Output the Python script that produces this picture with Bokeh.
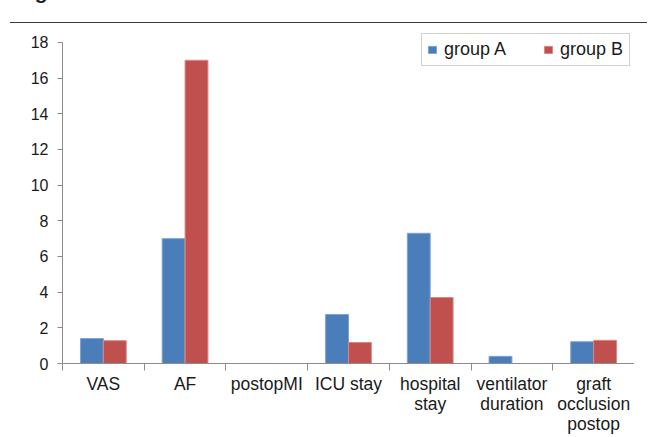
from bokeh.plotting import figure
from bokeh.models import Range1d, FixedTicker, Legend, LegendItem, Div, ColumnDataSource
from bokeh.layouts import column
from bokeh.transform import dodge
from bokeh.embed import file_html
from bokeh.resources import INLINE

# ---- data ----
categories = ["VAS", "AF", "postopMI", "ICU stay", "hospital\nstay",
              "ventilator\nduration", "graft\nocclusion\npostop"]
group_a = [1.4, 7.0, 0.0, 2.75, 7.3, 0.4, 1.22]
group_b = [1.28, 17.0, 0.0, 1.18, 3.7, 0.0, 1.3]
series_names = ["group A", "group B"]
y_ticks = [0, 2, 4, 6, 8, 10, 12, 14, 16, 18]
figure_caption = "Figure 3"

BLUE = "#4A7EBB"
RED = "#C0504D"
FONT = "Liberation Sans"
AXIS = "#8c8c8c"
TXT = "#1a1a1a"

n = len(categories)
centers = [i + 0.5 for i in range(n)]
src = ColumnDataSource(dict(x=centers, a=group_a, b=group_b))

p = figure(width=634, height=406, x_range=Range1d(0, n),
           y_range=Range1d(0, 18.5), output_backend="svg", toolbar_location=None,
           title=None, min_border_left=62, min_border_right=0, min_border_top=3,
           min_border_bottom=66)
p.outline_line_color = None
p.xgrid.visible = False
p.ygrid.visible = False

ra = p.vbar(x=dodge("x", -0.14, range=p.x_range), top="a", width=0.28, source=src,
            fill_color=BLUE, line_color="#7ea3d3", line_width=1)
rb = p.vbar(x=dodge("x", 0.14, range=p.x_range), top="b", width=0.28, source=src,
            fill_color=RED, line_color="#d98886", line_width=1)

# y axis
ya = p.yaxis[0]
ya.ticker = FixedTicker(ticks=y_ticks)
ya.bounds = (0, 18)
ya.axis_line_color = AXIS
ya.major_tick_line_color = AXIS
ya.major_tick_out = 5
ya.major_tick_in = 0
ya.minor_tick_line_color = None
ya.major_label_text_font = FONT
ya.major_label_text_font_size = "16px"
ya.major_label_text_color = TXT
ya.major_label_standoff = 9

# x axis: separator ticks between categories, labels at category centres
xa = p.xaxis[0]
xa.ticker = FixedTicker(ticks=centers, minor_ticks=list(range(n + 1)))
xa.major_label_overrides = {c: lab for c, lab in zip(centers, categories)}
xa.axis_line_color = AXIS
xa.major_tick_line_color = None
xa.minor_tick_line_color = AXIS
xa.minor_tick_out = 7
xa.minor_tick_in = 0
xa.major_label_text_font = FONT
xa.major_label_text_font_size = "17.5px"
xa.major_label_text_color = TXT
xa.major_label_text_line_height = 1.0
xa.major_label_standoff = 3

legend = Legend(items=[LegendItem(label=series_names[0], renderers=[ra]),
                       LegendItem(label=series_names[1], renderers=[rb])],
                orientation="horizontal", location=(359, 297), margin=0,
                border_line_color="#a6a6a6", border_line_width=1.5,
                padding=5, spacing=35, glyph_width=10, glyph_height=9,
                label_width=64, label_standoff=7, label_text_font=FONT,
                label_text_font_size="18px", label_text_color=TXT)
p.add_layout(legend)

top = Div(text=('<div style="position:relative;margin-left:5px;width:637px;height:18px;'
                'border-bottom:1.5px solid #3a3a3a">'
                '<span style="position:absolute;left:6px;top:-25px;'
                'font:bold 21px \'Liberation Sans\';color:#222;white-space:nowrap">'
                + figure_caption + '</span></div>'),
          width=634, height=20)

layout = column(top, p, spacing=0)
open("out.html", "w").write(file_html(layout, INLINE))
